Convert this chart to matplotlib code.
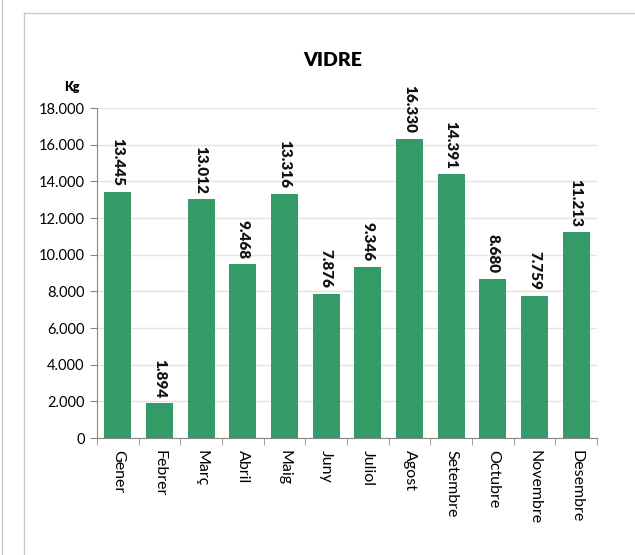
import numpy as np
import matplotlib
matplotlib.use("Agg")
import matplotlib.pyplot as plt
from matplotlib.lines import Line2D

months = ["Gener", "Febrer", "Març", "Abril", "Maig", "Juny", "Juliol",
          "Agost", "Setembre", "Octubre", "Novembre", "Desembre"]
kg = [13445, 1894, 13012, 9468, 13316, 7876, 9346, 16330, 14391, 8680, 7759, 11213]
y_ticks = [0, 2000, 4000, 6000, 8000, 10000, 12000, 14000, 16000, 18000]


def fmt(v):
    # thousands separator with a dot, catalan style
    return f"{v:,}".replace(",", ".")


plt.rcParams['font.family'] = ['Lato', 'DejaVu Sans']

fig = plt.figure(figsize=(6.35, 5.55), dpi=100)
ax = fig.add_axes([97 / 635, 1 - 438 / 555, 500 / 635, 330 / 555])

x = np.arange(len(months))
bars = ax.bar(x, kg, width=0.65, color="#349a67", zorder=3)

for xi, v in zip(x, kg):
    ax.annotate(fmt(v), (xi, v), xytext=(0, 4), textcoords="offset points",
                rotation=270, ha="center", va="bottom",
                fontsize=11, fontweight="heavy", color="#111111")

ax.set_xlim(-0.5, len(months) - 0.5)
ax.set_ylim(0, 18000)
ax.set_yticks(y_ticks)
ax.set_yticklabels([fmt(t) for t in y_ticks], fontsize=10.5)
ax.set_xticks(x)
ax.set_xticklabels(months, rotation=270, fontsize=11.5)
ax.tick_params(axis="x", length=0, pad=9)
ax.tick_params(axis="y", length=5, color="#888888", pad=4)

# category boundary ticks on x axis
ax.set_xticks(np.arange(-0.5, len(months)), minor=True)
ax.tick_params(axis="x", which="minor", length=5, color="#888888")

ax.grid(axis="y", color="#e3e3e3", linewidth=1, zorder=0)
for s in ["top", "right"]:
    ax.spines[s].set_visible(False)
ax.spines["left"].set_color("#888888")
ax.spines["bottom"].set_color("#888888")

fig.text(333 / 635, 1 - 60 / 555, "VIDRE", ha="center", va="center",
         fontsize=14, fontweight="heavy")
fig.text(72 / 635, 1 - 87 / 555, "Kg", ha="center", va="center",
         fontsize=9, fontweight="heavy")

# outer frame lines
fig.add_artist(Line2D([2 / 635, 2 / 635], [0, 1], color="#c8c8c8", lw=1))
fig.add_artist(Line2D([24 / 635, 24 / 635], [0, 1 - 13 / 555], color="#c8c8c8", lw=1))
fig.add_artist(Line2D([24 / 635, 1], [1 - 13 / 555, 1 - 13 / 555], color="#c8c8c8", lw=1))

fig.savefig("out.png", dpi=100)
